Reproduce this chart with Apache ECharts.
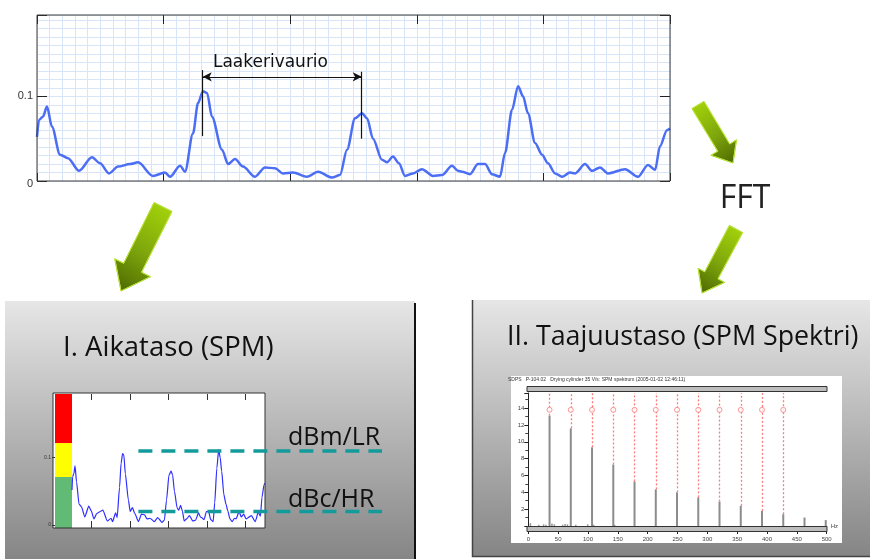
<!DOCTYPE html>
<html>
<head>
<meta charset="utf-8">
<script src="https://cdn.jsdelivr.net/npm/echarts@6/dist/echarts.min.js"></script>
<style>
html,body{margin:0;padding:0;background:#fff;}
#c{width:870px;height:559px;}
</style>
</head>
<body>
<div id="c"></div>
<script>
// ---------- data ----------
const sigTime = [0.0,0.16,0.47,0.79,1.18,1.82,2.45,3.32,4.34,4.98,5.69,6.40,7.35,7.98,9.16,10.11,10.51,11.30,11.69,12.32,12.72,13.11,13.43,13.82,14.61,15.09,15.64,16.27,17.22,18.01,18.80,19.43,20.22,21.33,22.20,23.30,23.93,24.49,25.12,25.67,26.07,26.54,27.25,27.65,28.12,28.59,29.07,29.70,30.41,31.28,31.99,32.78,33.25,33.57,34.20,34.83,35.39,35.94,36.57,36.97,37.52,38.0,38.39,38.78,39.34,39.89,40.36,40.92,41.47,42.10,42.50,43.29,43.84,44.47,45.10,46.45,47.47,48.26,48.82,49.21,49.76,50.0];
const sigAmp = [0.052,0.072,0.076,0.088,0.064,0.031,0.027,0.012,0.028,0.021,0.009,0.017,0.020,0.022,0.006,0.010,0.005,0.018,0.011,0.056,0.092,0.106,0.104,0.076,0.037,0.020,0.026,0.017,0.005,0.016,0.015,0.009,0.010,0.005,0.011,0.004,0.007,0.037,0.074,0.080,0.074,0.050,0.025,0.022,0.029,0.021,0.006,0.009,0.014,0.006,0.007,0.018,0.012,0.011,0.008,0.020,0.020,0.008,0.005,0.033,0.084,0.112,0.100,0.080,0.045,0.031,0.021,0.009,0.005,0.010,0.009,0.020,0.012,0.016,0.009,0.014,0.005,0.019,0.013,0.041,0.060,0.062];
const yTickLabels = ['0', '0.1'];
const faultStart = 13.09, faultEnd = 25.65;          // "Laakerivaurio" interval
const faultLabel = 'Laakerivaurio';

// SPM time-domain alarm bands (green / yellow / red) and levels
const bandLimits = [-0.0045, 0.0713, 0.1218, 0.1947];
const bandColors = ['#62bb74', '#ffff00', '#ff0000'];
const levelLR = 0.110, levelHR = 0.020;

// SPM spectrum
const specFreq = [35.6,71.2,106.8,142.4,178,213.6,249.2,284.8,320.4,356,391.6,427.2,462.8,498.4];
const specAmp  = [13.1,11.6,9.35,7.3,5.3,4.35,4.0,3.4,2.9,2.4,1.8,1.4,1.0,0.7];
const noiseFreq = [4,18,26,30,40,44,58,62,66,80,100,110,145];
const noiseAmp  = [0.35,0.15,0.2,0.15,0.3,0.2,0.15,0.25,0.2,0.15,0.2,0.15,0.15];
const specYLabels = ['2','4','6','8','10','12','14'];
const markedCount = 12;
const markerLevel = 13.8;
const markerTextLevel = 14.95;
const specTitle = 'SDPS   P-104.02   Drying cylinder 35 V/s: SPM spektrum (2005-01-02 12:46:11)';

// ---------- helpers ----------
function arrowPts(tx,ty,hx,hy,sw,hw,hl){
  const dx=hx-tx, dy=hy-ty, L=Math.hypot(dx,dy), ux=dx/L, uy=dy/L, px=-uy, py=ux;
  const bx=hx-ux*hl, by=hy-uy*hl;
  return [[tx+px*sw/2,ty+py*sw/2],[bx+px*sw/2,by+py*sw/2],[bx+px*hw/2,by+py*hw/2],[hx,hy],
          [bx-px*hw/2,by-py*hw/2],[bx-px*sw/2,by-py*sw/2],[tx-px*sw/2,ty-py*sw/2]];
}
function arrow(tx,ty,hx,hy,sw,hw,hl){
  const right = hx>tx;
  return {type:'polygon', z:5, shape:{points:arrowPts(tx,ty,hx,hy,sw,hw,hl)},
    style:{fill:{type:'linear', x:right?0:1, y:0, x2:right?1:0, y2:1,
      colorStops:[{offset:0,color:'#a8d80a'},{offset:0.55,color:'#7ea60c'},{offset:1,color:'#4a6500'}]},
      stroke:'#b8e23a', lineWidth:1}};
}
const sig = sigTime.map((t,i)=>[t, sigAmp[i]]);
const isTick = (v,t)=>Math.abs(v-t)<1e-6;

const panelGrad = {type:'linear',x:0,y:0,x2:0,y2:1,colorStops:[{offset:0,color:'#e6e6e6'},{offset:1,color:'#858585'}]};

const baseGraphics = [
  // panels
  {type:'rect', z:-10, shape:{x:5,y:301,width:410,height:260}, style:{fill:panelGrad}},
  {type:'line', z:-9, shape:{x1:415,y1:303,x2:415,y2:559}, style:{stroke:'#111',lineWidth:2}},
  {type:'rect', z:-10, shape:{x:472,y:300,width:400,height:257}, style:{fill:panelGrad}},
  {type:'polyline', z:-9, shape:{points:[[472.5,300],[472.5,556.5],[870,556.5]]}, style:{stroke:'#444', lineWidth:1.5, fill:null}},
  // inset white backgrounds
  {type:'rect', z:-5, shape:{x:53,y:393,width:212,height:135}, style:{fill:'#fff'}},
  {type:'rect', z:9, shape:{x:53,y:393,width:212,height:135}, style:{fill:null, stroke:'#333', lineWidth:1}},
  {type:'rect', z:-5, shape:{x:511,y:376,width:331,height:167}, style:{fill:'#fff'}},
  {type:'rect', z:-5, shape:{x:37,y:15,width:633,height:166}, style:{fill:'#fff'}},
  {type:'rect', z:9, shape:{x:37,y:15,width:633,height:166}, style:{fill:null, stroke:'#3a3a3a', lineWidth:1}},
  // spectrum scroll bars
  {type:'rect', z:10, shape:{x:527,y:386.5,width:300,height:5}, style:{fill:'#bdbdbd', stroke:'#333', lineWidth:1}},
  {type:'rect', z:10, shape:{x:527,y:526.5,width:300,height:5}, style:{fill:'#bdbdbd', stroke:'#333', lineWidth:1}},
  {type:'text', z:10, style:{x:508, y:380, text:specTitle, fontSize:5, fontFamily:'Liberation Sans', fill:'#333', verticalAlign:'middle'}},
  // titles
  {type:'text', z:10, style:{x:63, y:348, text:'I. Aikataso (SPM)', fontSize:27.5, fontFamily:'Open Sans', fill:'#111', verticalAlign:'middle'}},
  {type:'text', z:10, style:{x:507, y:337, text:'II. Taajuustaso (SPM Spektri)', fontSize:26.8, fontFamily:'Open Sans', fill:'#111', verticalAlign:'middle'}},
  {type:'text', z:10, style:{x:745, y:199, text:'FFT', fontSize:32, fontFamily:'Open Sans', fill:'#222', align:'center', verticalAlign:'middle'}},
  {type:'text', z:10, style:{x:288, y:438, text:'dBm/LR', fontSize:25, fontFamily:'Open Sans', fill:'#111', verticalAlign:'middle'}},
  {type:'text', z:10, style:{x:288, y:500, text:'dBc/HR', fontSize:25, fontFamily:'Open Sans', fill:'#111', verticalAlign:'middle'}},
  // arrows
  arrow(698,105,733,163,14,30,18),
  arrow(736,229,702,293,15,30,20),
  arrow(163,207,121,291,20,40,26)
];

const blueGrid = '#d8e5f8';
const noZero = {onZero:false, show:false};
const option = {
  animation:false,
  grid:[
    {left:37, top:15, width:633, height:166},
    {left:72, top:394, width:193, height:134},
    {left:55, top:394, width:17, height:134},
    {left:528.3, top:393, width:298.4, height:133}
  ],
  xAxis:[
    {gridIndex:0, type:'value', min:0, max:50, interval:1, axisLine:noZero, axisTick:{show:false}, axisLabel:{show:false}, splitLine:{show:true, lineStyle:{color:blueGrid, width:1}}},
    {gridIndex:0, type:'value', position:'top', min:0, max:50, interval:10, axisLine:noZero, axisTick:{show:true, inside:true, length:9, lineStyle:{color:'#222'}}, axisLabel:{show:false}, splitLine:{show:false}},
    {gridIndex:0, type:'value', position:'bottom', min:0, max:50, interval:10, axisLine:noZero, axisTick:{show:true, inside:true, length:8, lineStyle:{color:'#222'}}, axisLabel:{show:false}, splitLine:{show:false}},
    {gridIndex:1, type:'value', position:'bottom', min:0, max:50, axisLine:noZero, axisTick:{show:true, inside:true, length:7, customValues:[5,15,25,35,45], lineStyle:{color:'#333'}}, axisLabel:{show:false}, splitLine:{show:false}},
    {gridIndex:1, type:'value', position:'top', min:0, max:50, axisLine:noZero, axisTick:{show:true, inside:true, length:6, customValues:[5,15,25,35,45], lineStyle:{color:'#333'}}, axisLabel:{show:false}, splitLine:{show:false}},
    {gridIndex:2, type:'category', data:['band'], show:false, axisLine:noZero},
    {gridIndex:3, type:'value', min:0, max:500, interval:50, name:'Hz', nameLocation:'end', nameGap:4,
      nameTextStyle:{fontSize:6, color:'#444', padding:[14,0,0,0]},
      axisLine:{show:true, onZero:false, lineStyle:{color:'#222'}}, axisTick:{show:true, length:8, lineStyle:{color:'#222'}},
      minorTick:{show:true, splitNumber:5, length:6, lineStyle:{color:'#444'}},
      axisLabel:{fontSize:6, color:'#444', margin:10, fontFamily:'Liberation Sans'}, splitLine:{show:false}}
  ],
  yAxis:[
    {gridIndex:0, type:'value', min:0, max:0.196, interval:0.01, axisLine:noZero, axisTick:{show:false}, axisLabel:{show:false}, splitLine:{show:true, lineStyle:{color:blueGrid, width:1}}},
    {gridIndex:0, type:'value', position:'left', min:0, max:0.196, interval:0.1, axisLine:noZero,
      axisTick:{show:true, inside:true, length:10, lineStyle:{color:'#222'}},
      axisLabel:{show:true, fontSize:11, color:'#333', fontFamily:'Liberation Sans', margin:4,
        formatter:v=> isTick(v,0)?'{z|'+yTickLabels[0]+'}':(isTick(v,0.1)?yTickLabels[1]:''),
        rich:{z:{fontSize:11, color:'#333', fontFamily:'Liberation Sans', padding:[6,0,0,0]}}}, splitLine:{show:false}},
    {gridIndex:0, type:'value', position:'right', min:0, max:0.196, interval:0.1, axisLine:noZero,
      axisTick:{show:true, inside:true, length:10, lineStyle:{color:'#222'}}, axisLabel:{show:false}, splitLine:{show:false}},
    {gridIndex:1, type:'value', min:bandLimits[0], max:bandLimits[3], show:false, axisLine:noZero},
    {gridIndex:2, type:'value', position:'left', min:bandLimits[0], max:bandLimits[3], axisLine:noZero,
      axisTick:{show:true, length:3, customValues:[0,0.1], lineStyle:{color:'#333'}},
      axisLabel:{show:true, fontSize:5, color:'#333', margin:4, customValues:[0,0.1], formatter:v=> isTick(v,0)?yTickLabels[0]:yTickLabels[1]},
      splitLine:{show:false}},
    {gridIndex:3, type:'value', min:0, max:15.8, interval:2, axisLine:{show:true, onZero:false, lineStyle:{color:'#222'}},
      axisTick:{show:true, length:4, lineStyle:{color:'#222'}}, minorTick:{show:true, splitNumber:2, length:3, lineStyle:{color:'#444'}},
      axisLabel:{fontSize:6, color:'#444', margin:4, fontFamily:'Liberation Sans', showMaxLabel:false,
        formatter:v=> specYLabels.includes(String(v))?String(v):''}, splitLine:{show:false}}
  ],
  series:[
    {type:'line', xAxisIndex:0, yAxisIndex:0, data:sig, smooth:0.3, smoothMonotone:'x', symbol:'none', z:3,
      lineStyle:{color:'#4b6ef5', width:2.5},
      markLine:{silent:true, symbol:['none','none'], label:{show:false}, lineStyle:{color:'#111', width:1.2, type:'solid'},
        data:[
          [{coord:[faultStart,0.053]},{coord:[faultStart,0.131]}],
          [{coord:[faultEnd,0.050]},{coord:[faultEnd,0.129]}],
          [{coord:[faultStart,0.123], symbol:'arrow', symbolSize:[7,9]},{coord:[faultEnd,0.123], symbol:'arrow', symbolSize:[7,9]}]
        ]},
      markPoint:{silent:true, symbol:'circle', symbolSize:0,
        label:{show:true, position:'inside', formatter:faultLabel, color:'#111', fontSize:17, fontFamily:'DejaVu Sans'},
        data:[{coord:[18.44,0.140]}]}
    },
    {type:'line', xAxisIndex:3, yAxisIndex:3, data:sig, smooth:0.2, smoothMonotone:'x', symbol:'none', z:3,
      lineStyle:{color:'#2f2fff', width:1.2}},
    {type:'scatter', xAxisIndex:5, yAxisIndex:4, data:[['band',0]], symbolSize:0, silent:true,
      markArea:{silent:true, data:bandColors.map((c,i)=>[{yAxis:bandLimits[i], itemStyle:{color:c, opacity:1}},{yAxis:bandLimits[i+1]}])}},
    {type:'bar', xAxisIndex:6, yAxisIndex:5, data:noiseFreq.map((f,i)=>[f,noiseAmp[i]]), barWidth:1.5, itemStyle:{color:'#999'}, z:3},
    {type:'bar', xAxisIndex:6, yAxisIndex:5, data:specFreq.map((f,i)=>[f,specAmp[i]]), barWidth:2, barGap:'-100%', itemStyle:{color:'#8c8c8c'}, z:3,
      markLine:{silent:true, symbol:['none','none'], label:{show:false}, lineStyle:{color:'#ff7a7a', width:1.3, type:[2,2]},
        data:specFreq.slice(0,markedCount).map((f,i)=>[{coord:[f,specAmp[i]]},{coord:[f,15.8]}])}},
    {type:'scatter', xAxisIndex:6, yAxisIndex:5, data:specFreq.slice(0,markedCount).map(f=>[f,markerLevel]),
      symbol:'circle', symbolSize:5, itemStyle:{color:'#fff', borderColor:'#ff7a7a', borderWidth:1}, z:5},
    {type:'scatter', xAxisIndex:6, yAxisIndex:5, data:specFreq.slice(0,markedCount).map(f=>[f,markerTextLevel]),
      symbolSize:1, itemStyle:{opacity:0}, z:6, labelLayout:{hideOverlap:false},
      label:{show:true, position:'inside', rotate:90, formatter:'BPFO', fontSize:6, color:'#ff6a6a', fontFamily:'Liberation Sans'}}
  ],
  graphic:{elements:baseGraphics}
};

const chart = echarts.init(document.getElementById('c'), null, {renderer:'canvas'});
chart.setOption(option);

// dashed SPM level lines (dBm/LR, dBc/HR), positioned through the inset's axes
const pLR = chart.convertToPixel({xAxisIndex:3, yAxisIndex:3}, [17.2, levelLR]);
const pHR = chart.convertToPixel({xAxisIndex:3, yAxisIndex:3}, [17.2, levelHR]);
const dash = (p)=>({type:'line', z:12, shape:{x1:p[0], y1:p[1], x2:382, y2:p[1]}, style:{stroke:'#139a9a', lineWidth:3.5, lineDash:[14,9]}});
chart.setOption({graphic:{elements:baseGraphics.concat([dash(pLR), dash(pHR)])}});
</script>
</body>
</html>
